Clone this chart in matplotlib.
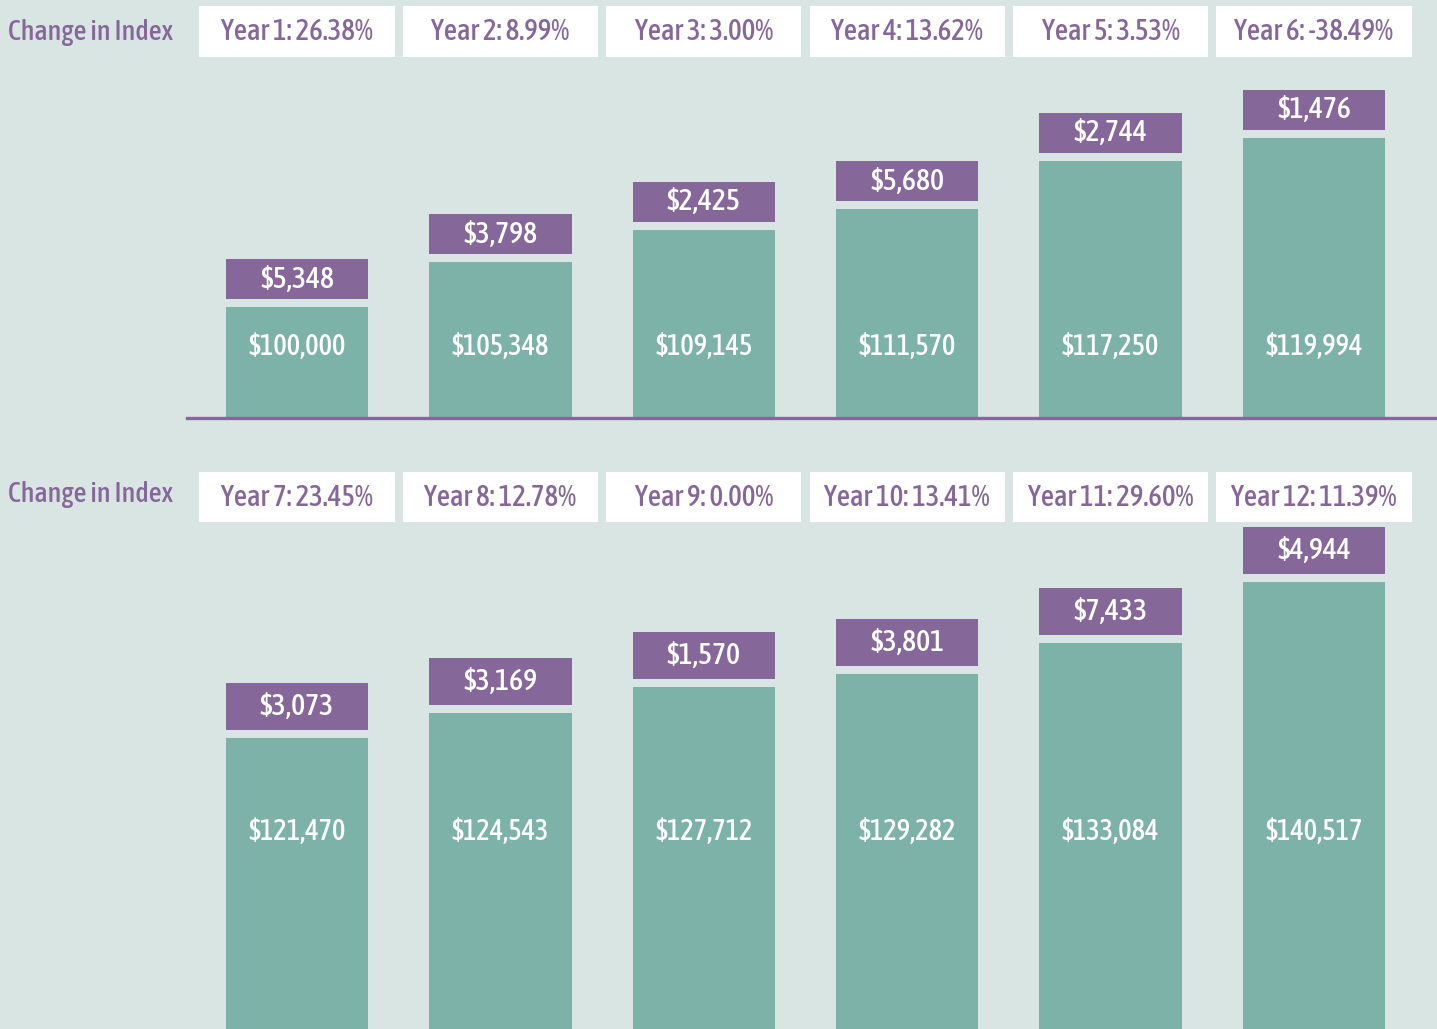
import matplotlib.pyplot as plt
from matplotlib.patches import Rectangle
import matplotlib.transforms as mtransforms
from matplotlib import font_manager
from matplotlib.font_manager import FontProperties

BG = "#d9e5e3"
PURPLE = "#866799"
TEAL = "#7db2a9"

# data
years_top = ["Year 1", "Year 2", "Year 3", "Year 4", "Year 5", "Year 6"]
change_top = [26.38, 8.99, 3.00, 13.62, 3.53, -38.49]
balance_top = [100000, 105348, 109145, 111570, 117250, 119994]
gain_top = [5348, 3798, 2425, 5680, 2744, 1476]

years_bot = ["Year 7", "Year 8", "Year 9", "Year 10", "Year 11", "Year 12"]
change_bot = [23.45, 12.78, 0.00, 13.41, 29.60, 11.39]
balance_bot = [121470, 124543, 127712, 129282, 133084, 140517]
gain_bot = [3073, 3169, 1570, 3801, 7433, 4944]


# look for a condensed sans face, the original uses a condensed geometric font
def pick_font():
    narrow = []
    for f in font_manager.fontManager.ttflist:
        st = str(f.stretch).lower()
        if "condensed" in f.name.lower() or "narrow" in f.name.lower() or "condensed" in st \
                or (st.isdigit() and int(st) < 500) or "condensed" in f.fname.lower():
            if "italic" in f.fname.lower() or f.style != "normal":
                continue
            narrow.append(f)
    for wt in ("medium", 500, "semibold", 600, "normal", 400, "regular", "book"):
        for f in narrow:
            if str(f.weight) == str(wt):
                return FontProperties(fname=f.fname)
    if narrow:
        return FontProperties(fname=narrow[0].fname)
    return FontProperties(family="DejaVu Sans")


FP = pick_font()

W, H = 1437, 1029
fig = plt.figure(figsize=(W / 100, H / 100), dpi=100)
fig.patch.set_facecolor(BG)
renderer = fig.canvas.get_renderer()

groups = {"cap": [], "val": [], "head": [], "side": []}


def fit_group(texts, target_px, max_pt):
    # one common size per group, small enough for the widest text
    size = max_pt
    for t in texts:
        t.set_fontsize(max_pt)
        w = t.get_window_extent(renderer).width
        size = min(size, max_pt * target_px / w)
    for t in texts:
        t.set_fontsize(size)


BAR_W = 0.70
STEP_PX = 203.4
X0_PX = 297


def panel(top_px, bot_px, y0, px_per_k, years, change, balance, gain, cap_h, val_y,
          head_y, baseline):
    ax = fig.add_axes([0, 1 - bot_px / H, 1, (bot_px - top_px) / H])
    ax.set_facecolor("none")
    ax.set_xlim(-X0_PX / STEP_PX, (W - X0_PX) / STEP_PX)
    ax.set_ylim(y0, y0 + (bot_px - top_px) / px_per_k * 1000)
    ax.axis("off")
    gap = 8 / px_per_k * 1000
    cap = cap_h / px_per_k * 1000
    trans = mtransforms.blended_transform_factory(ax.transData, ax.transAxes)
    for i in range(len(years)):
        ax.bar(i, balance[i] - y0, bottom=y0, width=BAR_W, color=TEAL)
        ax.bar(i, cap, bottom=balance[i] + gap, width=BAR_W, color=PURPLE)
        groups["cap"].append(ax.text(i, balance[i] + gap + cap / 2, f"${gain[i]:,}",
                                     color="white", fontproperties=FP,
                                     ha="center", va="center"))
        groups["val"].append(ax.text(i, val_y, f"${balance[i]:,}", color="white",
                                     fontproperties=FP, ha="center", va="center",
                                     transform=trans))
        # header tile
        ax.add_patch(Rectangle((i - 0.48, head_y[0]), 0.96, head_y[1] - head_y[0],
                               transform=trans, facecolor="white", edgecolor="none",
                               clip_on=False))
        groups["head"].append(ax.text(i, (head_y[0] + head_y[1]) / 2,
                                      f"{years[i]}: {change[i]:.2f}%", color=PURPLE,
                                      fontproperties=FP, ha="center", va="center",
                                      transform=trans))
    if baseline:
        ax.axhline(y0, xmin=187 / W, xmax=1, color=PURPLE, lw=2.4, clip_on=False)
    return ax


# top panel: axes spans 0..418 px
panel(0, 418, 87000, 8.5, years_top, change_top, balance_top, gain_top, 40,
      (418 - 347) / 418, ((418 - 57) / 418, (418 - 6) / 418), True)
# bottom panel: axes spans 462..1029 px
panel(462, 1029, 86000, 8.2, years_bot, change_bot, balance_bot, gain_bot, 47,
      (1029 - 831) / 567, ((1029 - 522) / 567, (1029 - 472) / 567), False)

for y in (33, 494):
    groups["side"].append(fig.text(8 / W, 1 - y / H, "Change in Index", color=PURPLE,
                                   fontproperties=FP, ha="left", va="center"))

fit_group(groups["cap"], 74, 24)
fit_group(groups["val"], 98, 24)
fit_group(groups["head"], 166, 24)
fit_group(groups["side"], 165, 22)

fig.savefig("out.png", dpi=100, facecolor=BG)
